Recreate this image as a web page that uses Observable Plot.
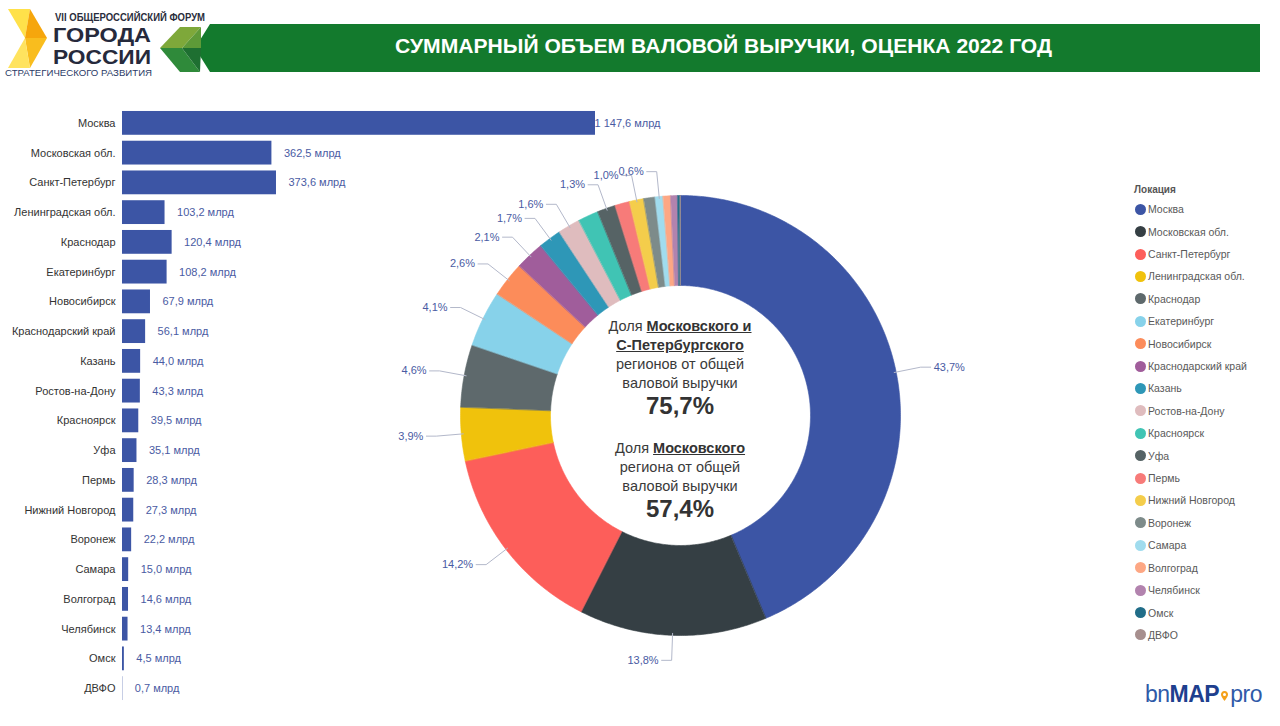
<!DOCTYPE html>
<html>
<head>
<meta charset="utf-8">
<script src="https://cdn.jsdelivr.net/npm/d3@7"></script>
<script src="https://cdn.jsdelivr.net/npm/@observablehq/plot@0.6"></script>
<style>
  html, body { margin: 0; padding: 0; background: #fff; }
  body { width: 1280px; height: 726px; position: relative; overflow: hidden; font-family: "Liberation Sans", Arial, sans-serif; }
  .abs { position: absolute; }
  #center { left: 550px; width: 260px; top: 317px; text-align: center; color: #3a3a3a; font-size: 14.5px; line-height: 19px; }
  #center .big { font-size: 24px; font-weight: bold; line-height: 26px; color: #333; }
  #center b { text-decoration: underline; color: #333; }
  #legend { left: 1134px; top: 182px; font-size: 10.5px; color: #595959; }
  #legend .ttl { font-weight: bold; font-size: 10px; color: #555; height: 16px; line-height: 16px; }
  #legend .it { height: 22.42px; line-height: 14px; display: flex; align-items: center; }
  #legend .dot { width: 11px; height: 11px; border-radius: 50%; margin-left: 1px; margin-right: 2px; }
  #logo2 { left: 1145px; top: 681px; font-size: 23px; color: #2f5aa8; letter-spacing: -0.5px; }
</style>
</head>
<body>
<svg class="abs" style="left:0;top:0" width="1280" height="80">
  <polygon points="210,24 1260,24 1260,72 210,72 195,48" fill="#137a2d"/>
  <polygon points="8,9 30,9 25,38" fill="#ffe14a"/>
  <polygon points="30,9 47,38 25,38" fill="#f6a60c"/>
  <polygon points="25,38 47,38 30,68" fill="#f9bd1e"/>
  <polygon points="25,38 30,68 8,68" fill="#ffe35e"/>
  <polygon points="180,27 201,27 182,48 160,48" fill="#7ea83a"/>
  <polygon points="160,48 182,48 200,72 180,72" fill="#2f8a3a"/>
  <polygon points="182,48 201,27 201,48" fill="#5e9a38"/>
  <polygon points="182,48 201,48 200,72" fill="#1e6f31"/>
  <text x="55" y="20.5" font-size="10" font-weight="bold" fill="#2a2d3c" textLength="150" lengthAdjust="spacingAndGlyphs">VII ОБЩЕРОССИЙСКИЙ ФОРУМ</text>
  <text x="53" y="41.5" font-size="19.5" font-weight="bold" fill="#262a3c" textLength="98" lengthAdjust="spacingAndGlyphs">ГОРОДА</text>
  <text x="53" y="63.5" font-size="19.5" font-weight="bold" fill="#262a3c" textLength="98" lengthAdjust="spacingAndGlyphs">РОССИИ</text>
  <text x="5" y="75.5" font-size="8.5" fill="#2b3a66" textLength="147" lengthAdjust="spacingAndGlyphs">СТРАТЕГИЧЕСКОГО РАЗВИТИЯ</text>
  <text x="395" y="53" font-size="21" font-weight="bold" fill="#ffffff" textLength="657" lengthAdjust="spacingAndGlyphs">СУММАРНЫЙ ОБЪЕМ ВАЛОВОЙ ВЫРУЧКИ, ОЦЕНКА 2022 ГОД</text>
</svg>

<div id="bars" class="abs" style="left:0;top:100px"></div>
<div id="pie" class="abs" style="left:360px;top:130px"></div>

<div id="center" class="abs">
  <div>Доля <b>Московского и </b></div>
  <div><b>С-Петербургского </b></div>
  <div>регионов от общей</div>
  <div>валовой выручки</div>
  <div class="big">75,7%</div>
  <div style="height:20px"></div>
  <div>Доля <b>Московского</b></div>
  <div>региона от общей</div>
  <div>валовой выручки</div>
  <div class="big">57,4%</div>
</div>

<div id="legend" class="abs"></div>

<div id="logo2" class="abs"><span>bn</span><span style="font-weight:bold;color:#1e3f8e">MAP</span><svg width="9" height="14" style="vertical-align:-2px;margin:0 1px"><path d="M4.5 1 C2 1 1 3 1 4.6 C1 7 4.5 11 4.5 11 C4.5 11 8 7 8 4.6 C8 3 7 1 4.5 1 Z" fill="#f4a11b"/><circle cx="4.5" cy="4.6" r="1.5" fill="#fff"/></svg><span>pro</span></div>

<script>
const regions = ["Москва","Московская обл.","Санкт-Петербург","Ленинградская обл.","Краснодар","Екатеринбург","Новосибирск","Краснодарский край","Казань","Ростов-на-Дону","Красноярск","Уфа","Пермь","Нижний Новгород","Воронеж","Самара","Волгоград","Челябинск","Омск","ДВФО"];
const revenue = [1147.6,362.5,373.6,103.2,120.4,108.2,67.9,56.1,44.0,43.3,39.5,35.1,28.3,27.3,22.2,15.0,14.6,13.4,4.5,0.7];
const colors = ["#3c55a5","#353f44","#fd5e5a","#f0c20c","#5e696c","#87d2ea","#fc8c5a","#a05d9b","#2e97b7","#dfbcbe","#40c4b4","#566365","#f77b79","#f4cd4b","#7d8b8a","#a0dcee","#fda784","#b283ae","#216d88","#a78f8e"];
const pieLabeled = ["Москва","Московская обл.","Санкт-Петербург","Ленинградская обл.","Краснодар","Екатеринбург","Новосибирск","Краснодарский край","Казань","Ростов-на-Дону","Уфа","Нижний Новгород","Самара"];
const unit = " млрд";

const ru = d3.formatLocale({decimal: ",", thousands: "\u00a0", grouping: [3], currency: ["", ""]});
const fmtVal = ru.format(",.1f");
const fmtPct = ru.format(".1%");

const barData = regions.map((r, i) => ({region: r, value: revenue[i]}));
const labelColor = "#4a5ba3";

const bars = Plot.plot({
  width: 700, height: 620,
  marginLeft: 122, marginRight: 105, marginTop: 8, marginBottom: 17,
  style: {fontFamily: "Liberation Sans, Arial, sans-serif", fontSize: "11px", color: "#333"},
  x: {domain: [0, d3.max(revenue)], axis: null},
  y: {domain: regions, paddingInner: 0.2, paddingOuter: 0.1, round: false, tickSize: 0, tickPadding: 7, label: null},
  marks: [
    Plot.barX(barData, {x: "value", y: "region", fill: "#3c55a5"}),
    Plot.text(barData.filter(d => d.region !== "Москва"), {x: "value", y: "region", text: d => fmtVal(d.value) + unit, textAnchor: "start", dx: 12, fill: labelColor, fontSize: 11}),
    Plot.text(barData.filter(d => d.region === "Москва"), {x: "value", y: "region", text: d => fmtVal(d.value) + unit, textAnchor: "start", dx: -1, fill: labelColor, fontSize: 11, stroke: "#e3e6ee", strokeWidth: 0})
  ]
});
document.getElementById("bars").appendChild(bars);

// Pie (donut)
const W = 640, H = 580, cx = 320, cy = 285, R = 220, r0 = 130;
const total = d3.sum(revenue);
const arcs = d3.pie().sort(null).value(d => d.value)(barData);
const pt = (a, rad) => [cx + rad * Math.sin(a), cy - rad * Math.cos(a)];
const slicePts = [];
arcs.forEach(a => {
  const n = Math.max(2, Math.ceil((a.endAngle - a.startAngle) / 0.01));
  for (let k = 0; k <= n; k++) {
    const t = a.startAngle + (a.endAngle - a.startAngle) * k / n;
    const [x, y] = pt(t, R); slicePts.push({region: a.data.region, x, y});
  }
  for (let k = n; k >= 0; k--) {
    const t = a.startAngle + (a.endAngle - a.startAngle) * k / n;
    const [x, y] = pt(t, r0); slicePts.push({region: a.data.region, x, y});
  }
});
const leaders = [], labels = [];
arcs.filter(a => pieLabeled.includes(a.data.region)).forEach(a => {
  const m = (a.startAngle + a.endAngle) / 2;
  const p1 = pt(m, R - 2), p2 = pt(m, R + 25);
  const right = Math.sin(m) >= 0;
  const p3 = [p2[0] + (right ? 10 : -10), p2[1]];
  [p1, p2, p3].forEach(p => leaders.push({region: a.data.region, x: p[0], y: p[1]}));
  labels.push({region: a.data.region, x: p3[0], y: p3[1], right, text: fmtPct(a.data.value / total)});
});

const pie = Plot.plot({
  width: W, height: H, margin: 0,
  style: {fontFamily: "Liberation Sans, Arial, sans-serif", fontSize: "11px", background: "transparent"},
  x: {type: "identity", axis: null},
  y: {type: "identity", axis: null},
  color: {domain: regions, range: colors},
  marks: [
    Plot.line(slicePts, {x: "x", y: "y", z: "region", fill: "region", stroke: "region", strokeWidth: 0.6, curve: "linear-closed"}),
    Plot.line(leaders, {x: "x", y: "y", z: "region", stroke: "#b3b8ca", strokeWidth: 1}),
    Plot.text(labels.filter(d => d.right), {x: "x", y: "y", text: "text", textAnchor: "start", dx: 3, fill: labelColor, fontSize: 11}),
    Plot.text(labels.filter(d => !d.right), {x: "x", y: "y", text: "text", textAnchor: "end", dx: -3, fill: labelColor, fontSize: 11})
  ]
});
document.getElementById("pie").appendChild(pie);

// Legend
const leg = document.getElementById("legend");
const ttl = document.createElement("div"); ttl.className = "ttl"; ttl.textContent = "Локация"; leg.appendChild(ttl);
regions.forEach((r, i) => {
  const it = document.createElement("div"); it.className = "it";
  const dot = document.createElement("span"); dot.className = "dot"; dot.style.background = colors[i];
  const tx = document.createElement("span"); tx.textContent = r;
  it.appendChild(dot); it.appendChild(tx); leg.appendChild(it);
});
</script>
</body>
</html>
